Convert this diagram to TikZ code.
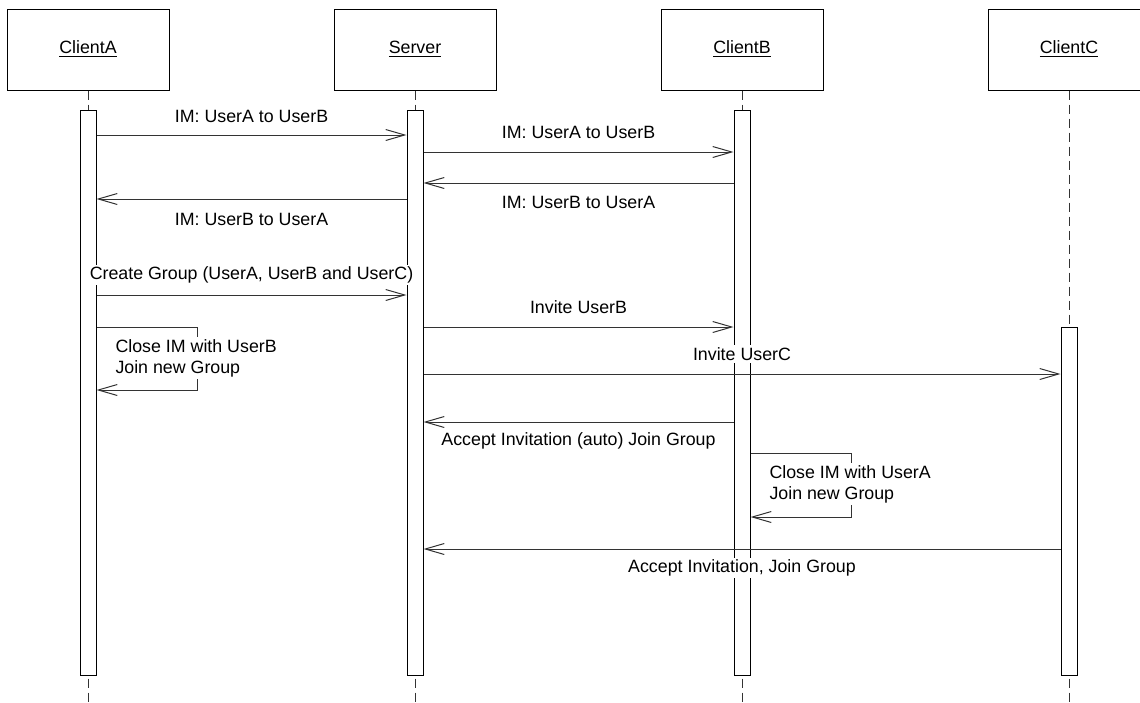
\documentclass[tikz,border=0pt]{standalone}
\usepackage{fontspec}
\setmainfont{Liberation Sans}
\usetikzlibrary{arrows.meta}

\begin{document}
\begin{tikzpicture}[x=0.5pt,y=-0.5pt,line width=0.5pt,
	font=\fontsize{8.9}{10.5}\selectfont,
	actor/.style={draw,minimum width=81pt,minimum height=40.5pt,inner sep=0pt},
	actbar/.style={draw,fill=white,minimum width=8pt,inner sep=0pt,anchor=north},
	life/.style={draw=LineGray,dash pattern=on 4.5pt off 2.5pt},
	msg/.style={draw=LineGray,-{Straight Barb[length=9.5pt,width=5.5pt]}},
	lbl/.style={fill=white,inner sep=1pt}]
	\colorlet{LineGray}{black!80}
	\useasboundingbox (0,0) rectangle (1140,702);
	\clip (0,0) rectangle (1140,702);
	% participants
	\node[actor] (ca) at (88,49.5) {\underline{ClientA}};
	\node[actor] (sv) at (415,49.5) {\underline{Server}};
	\node[actor] (cb) at (742,49.5) {\underline{ClientB}};
	\node[actor] (cc) at (1069,49.5) {\underline{ClientC}};
	\foreach \p in {ca,sv,cb,cc}
		\draw[life] (\p.south) -- (\p.south |- 0,702);
	% activations
	\node[actbar,minimum height=282.5pt] (ba) at (88,110) {};
	\node[actbar,minimum height=282.5pt] (bs) at (415,110) {};
	\node[actbar,minimum height=282.5pt] (bb) at (742,110) {};
	\node[actbar,minimum height=174pt] (bc) at (1069,327) {};
	% messages
	\draw[msg] (ba.east |- 0,135) -- node[lbl,yshift=9.5pt] {IM: UserA to UserB} (bs.west |- 0,135);
	\draw[msg] (bs.east |- 0,152) -- node[lbl,yshift=10pt] {IM: UserA to UserB} (bb.west |- 0,152);
	\draw[msg] (bb.west |- 0,183) -- node[lbl,yshift=-9.5pt] {IM: UserB to UserA} (bs.east |- 0,183);
	\draw[msg] (bs.west |- 0,199) -- node[lbl,yshift=-10pt] {IM: UserB to UserA} (ba.east |- 0,199);
	\draw[msg] (ba.east |- 0,295) -- node[lbl,yshift=10pt] {Create Group (UserA, UserB and UserC)} (bs.west |- 0,295);
	\draw[msg] (bs.east |- 0,327) -- node[lbl,yshift=10pt] {Invite UserB} (bb.west |- 0,327);
	\draw[msg] (ba.east |- 0,327) -- ++(101,0) |- (ba.east |- 0,390);
	\node[lbl,anchor=west,align=left] (na) at (113,358) {Close IM with UserB\\Join new Group};
	\draw[msg] (bs.east |- 0,374) -- node[lbl,yshift=10pt] {Invite UserC} (bc.west |- 0,374);
	\draw[msg] (bb.west |- 0,422) -- node[lbl,yshift=-9.5pt] {Accept Invitation (auto) Join Group} (bs.east |- 0,422);
	\draw[msg] (bb.east |- 0,453) -- ++(101,0) |- (bb.east |- 0,517);
	\node[lbl,anchor=west,align=left] (nb) at (767,484) {Close IM with UserA\\Join new Group};
	\draw[msg] (bc.west |- 0,549) -- node[lbl,yshift=-9.5pt] {Accept Invitation, Join Group} (bs.east |- 0,549);
\end{tikzpicture}
\end{document}
